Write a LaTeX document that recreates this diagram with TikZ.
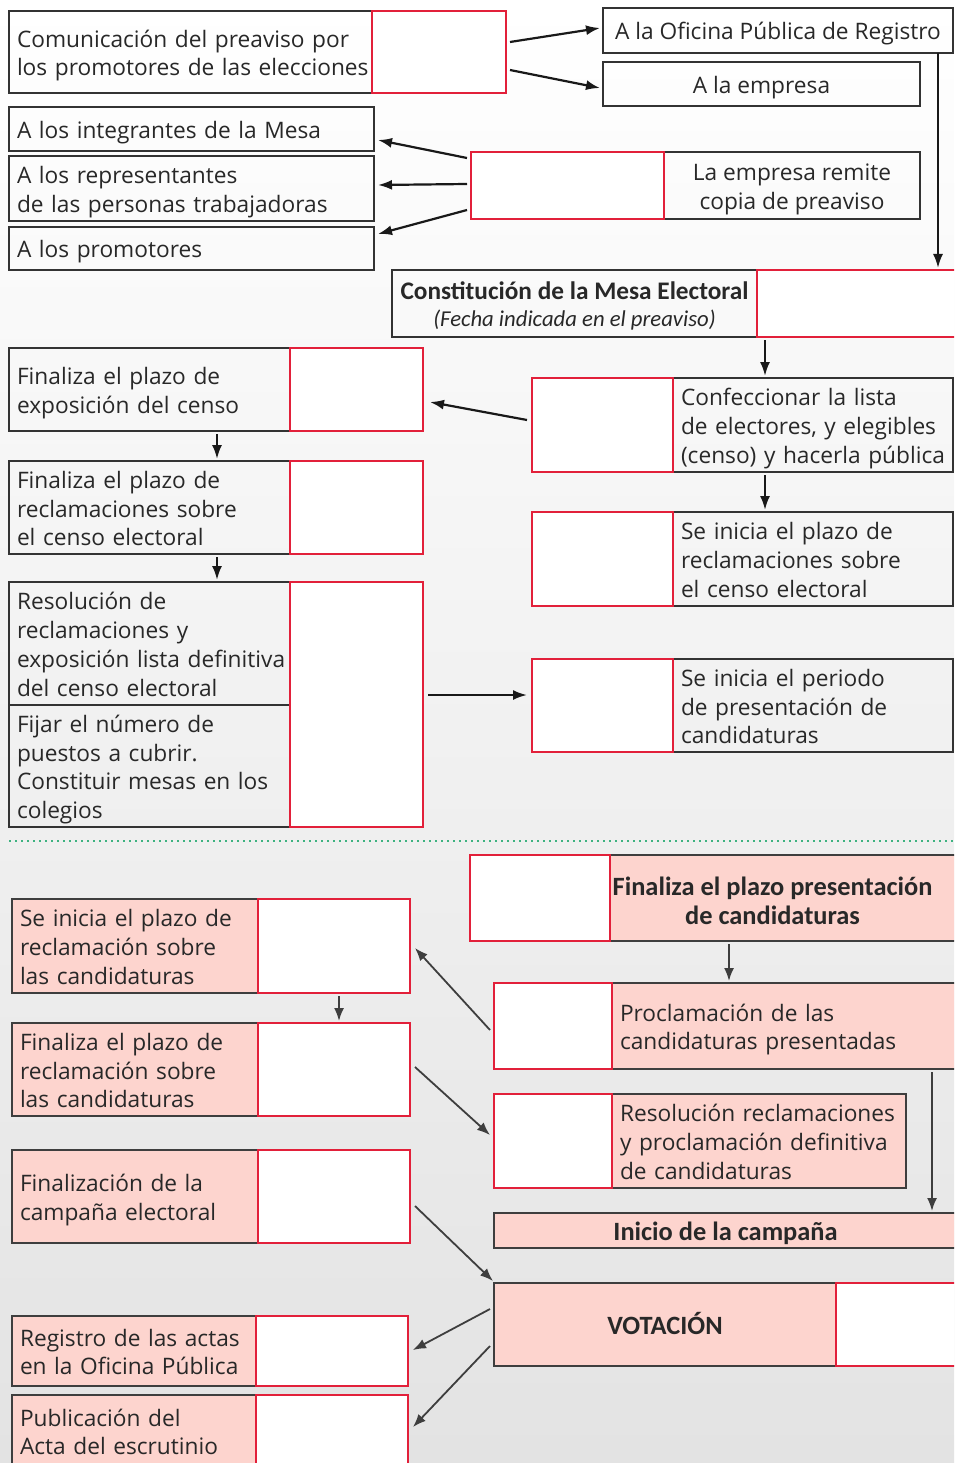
\documentclass[tikz,border=0pt]{standalone}
\usepackage{fontspec}
\setmainfont{Open Sans}
\newfontfamily\calib{Carlito}
\usetikzlibrary{arrows.meta,positioning}

\definecolor{redline}{RGB}{226,32,58}
\definecolor{pinkfill}{RGB}{253,212,206}
\definecolor{darkline}{RGB}{62,62,62}
\definecolor{greendot}{RGB}{62,178,128}
\definecolor{textc}{RGB}{40,40,40}

\begin{document}
\begin{tikzpicture}[
    x=1pt, y=-1pt,
    cell/.style={anchor=north west, inner sep=0pt, outer sep=0pt, line width=1.3pt,
      font=\fontsize{22.7}{28.8}\selectfont, text=textc,
      execute at begin node={\rule{0pt}{26pt}},
      execute at end node={\rule[-7pt]{0pt}{7pt}}},
    blk/.style={cell, draw=black!80},
    blktxt/.style={blk, inner xsep=8pt, align=left},
    redbox/.style={cell, draw=redline, fill=white},
    pinkbox/.style={cell, draw=darkline, fill=pinkfill, inner xsep=8pt, align=left},
    head/.style={font=\calib\bfseries\fontsize{26.4}{29}\selectfont},
    arr/.style={-{Latex[length=14pt,width=10pt]}, line width=2.2pt, black!90},
    arrg/.style={-{Latex[length=13pt,width=10pt]}, line width=1.8pt, darkline},
]

  % page and background
  \useasboundingbox (0,0) rectangle (954,1463);
  \clip (0,0) rectangle (954,1463);
  \shade[top color=white, middle color=black!5, bottom color=black!11] (0,0) rectangle (954,1463);

  % preaviso
  \node[blktxt, minimum width=363pt, minimum height=82pt, text width=347pt] (prev) at (9,11) {Comunicación del preaviso por\\\mbox{los promotores de las elecciones}};
  \node[redbox, minimum width=134pt, minimum height=82pt] (prevr) at (372,11) {};
  \node[blk, minimum width=350pt, minimum height=45pt] (ofic) at (603,8) {A la Oficina Pública de Registro};
  \node[blk, minimum width=317pt, minimum height=44pt] (empr) at (603,62) {A la empresa};

  % copias del preaviso
  \node[blktxt, minimum width=365pt, minimum height=44pt, text width=349pt] (integ) at (9,107) {A los integrantes de la Mesa};
  \node[blktxt, minimum width=365pt, minimum height=65pt, text width=349pt] (repr) at (9,156) {A los representantes\\\mbox{de las personas trabajadoras}};
  \node[blktxt, minimum width=365pt, minimum height=43pt, text width=349pt] (promo) at (9,227) {A los promotores};
  \node[blktxt, minimum width=256pt, minimum height=67pt, text width=240pt, align=flush center] (rem) at (664,152) {La empresa remite\\copia de preaviso};
  \node[redbox, minimum width=193pt, minimum height=67pt] (remr) at (471,152) {};

  % mesa electoral
  \node[blktxt, inner xsep=4pt, minimum width=365pt, minimum height=67pt, text width=357pt, align=flush center] (const) at (392,270)
    {{\calib\bfseries\fontsize{25.3}{27}\selectfont Constitución de la Mesa Electoral}\\[-2pt]{\calib\itshape\fontsize{22.7}{27}\selectfont (Fecha indicada en el preaviso)}};
  \node[redbox, minimum width=200pt, minimum height=67pt] (constr) at (757,270) {};

  % censo
  \node[blktxt, minimum width=280pt, minimum height=94pt, text width=264pt] (conf) at (673,378) {Confeccionar la lista\\\mbox{de electores, y elegibles}\\\mbox{(censo) y hacerla pública}};
  \node[redbox, minimum width=141pt, minimum height=94pt] (confr) at (532,378) {};
  \node[blktxt, minimum width=281pt, minimum height=83pt, text width=265pt] (expo) at (9,348) {Finaliza el plazo de\\exposición del censo};
  \node[redbox, minimum width=133pt, minimum height=83pt] (expor) at (290,348) {};
  \node[blktxt, minimum width=281pt, minimum height=93pt, text width=265pt] (recl) at (9,461) {Finaliza el plazo de\\reclamaciones sobre\\el censo electoral};
  \node[redbox, minimum width=133pt, minimum height=93pt] (reclr) at (290,461) {};
  \node[blktxt, minimum width=281pt, minimum height=123pt, text width=265pt] (resol) at (9,582) {Resolución de\\reclamaciones y\\\mbox{exposición lista definitiva}\\del censo electoral};
  \node[blktxt, minimum width=281pt, minimum height=122pt, text width=265pt] (fijar) at (9,705) {Fijar el número de\\puestos a cubrir.\\\mbox{Constituir mesas en los}\\colegios};
  \node[redbox, minimum width=133pt, minimum height=245pt] (resolr) at (290,582) {};
  \node[blktxt, minimum width=280pt, minimum height=94pt, text width=264pt] (ini) at (673,512) {Se inicia el plazo de\\reclamaciones sobre\\el censo electoral};
  \node[redbox, minimum width=141pt, minimum height=94pt] (inir) at (532,512) {};
  \node[blktxt, minimum width=280pt, minimum height=93pt, text width=264pt] (per) at (673,659) {Se inicia el periodo\\de presentación de\\candidaturas};
  \node[redbox, minimum width=141pt, minimum height=93pt] (perr) at (532,659) {};

  \draw[greendot, line width=2pt, dash pattern=on 2pt off 4pt] (9,841) -- (954,841);

  % candidaturas
  \node[pinkbox, minimum width=347pt, minimum height=86pt,
    label={[head, text=textc, align=center, xshift=-11pt, yshift=-3pt]center:Finaliza el plazo presentación\\de candidaturas}] (finc) at (610,855) {};
  \node[redbox, minimum width=140pt, minimum height=86pt] (fincr) at (470,855) {};
  \node[pinkbox, minimum width=345pt, minimum height=86pt, text width=329pt] (proc) at (612,983) {Proclamación de las\\\mbox{candidaturas presentadas}};
  \node[redbox, minimum width=118pt, minimum height=86pt] (procr) at (494,983) {};
  \node[pinkbox, minimum width=294pt, minimum height=94pt, text width=278pt] (resc) at (612,1094) {\mbox{Resolución reclamaciones}\\\mbox{y proclamación definitiva}\\de candidaturas};
  \node[redbox, minimum width=118pt, minimum height=94pt] (rescr) at (494,1094) {};
  \node[pinkbox, head, minimum width=463pt, minimum height=35pt, align=center] (camp) at (494,1213) {Inicio de la campaña};
  \node[pinkbox, head, minimum width=342pt, minimum height=83pt, align=center] (vot) at (494,1283) {VOTACIÓN};
  \node[redbox, minimum width=121pt, minimum height=83pt] (votr) at (836,1283) {};

  \node[pinkbox, minimum width=246pt, minimum height=94pt, text width=230pt] (recc) at (12,899) {Se inicia el plazo de\\reclamación sobre\\las candidaturas};
  \node[redbox, minimum width=152pt, minimum height=94pt] (reccr) at (258,899) {};
  \node[pinkbox, minimum width=246pt, minimum height=93pt, text width=230pt] (finr) at (12,1023) {Finaliza el plazo de\\reclamación sobre\\las candidaturas};
  \node[redbox, minimum width=152pt, minimum height=93pt] (finrr) at (258,1023) {};
  \node[pinkbox, minimum width=246pt, minimum height=93pt, text width=230pt] (fcamp) at (12,1150) {Finalización de la\\campaña electoral};
  \node[redbox, minimum width=152pt, minimum height=93pt] (fcampr) at (258,1150) {};
  \node[pinkbox, minimum width=244pt, minimum height=70pt, text width=228pt] (reg) at (12,1316) {Registro de las actas\\en la Oficina Pública};
  \node[redbox, minimum width=152pt, minimum height=70pt] (regr) at (256,1316) {};
  \node[pinkbox, minimum width=244pt, minimum height=72pt, text width=228pt] (pub) at (12,1395) {Publicación del\\Acta del escrutinio};
  \node[redbox, minimum width=152pt, minimum height=72pt] (pubr) at (256,1395) {};

  % arrows, upper part
  \draw[arr] ([xshift=4pt,yshift=10pt]prevr.east) -- ([xshift=-3pt,yshift=2.5pt]ofic.west);
  \draw[arr] ([xshift=4pt,yshift=-18pt]prevr.east) -- ([xshift=-3pt,yshift=-4pt]empr.west);
  \draw[arr] ([xshift=-4pt,yshift=27.5pt]remr.west) -- ([xshift=4pt,yshift=-11pt]integ.east);
  \draw[arr] ([xshift=-4pt,yshift=1.5pt]remr.west) -- ([xshift=4pt,yshift=3.5pt]repr.east);
  \draw[arr] ([xshift=-4pt,yshift=-24.5pt]remr.west) -- ([xshift=4pt,yshift=14.5pt]promo.east);
  \draw[arr] ([xshift=-15pt]ofic.south east) -- ([xshift=181pt,yshift=2pt]constr.north west);
  \draw[arr] ([xshift=8pt,yshift=-3pt]constr.south west) -- ([xshift=92pt,yshift=2pt]conf.north west);
  \draw[arr] ([xshift=-5pt,yshift=5pt]confr.west) -- ([xshift=7pt,yshift=-12.5pt]expor.east);
  \draw[arr] ([xshift=208pt,yshift=-3pt]expo.south west) -- ([xshift=208pt,yshift=2pt]recl.north west);
  \draw[arr] ([xshift=208pt,yshift=-3pt]recl.south west) -- ([xshift=208pt,yshift=2pt]resol.north west);
  \draw[arr] ([xshift=92pt,yshift=-3pt]conf.south west) -- ([xshift=92pt,yshift=2pt]ini.north west);
  \draw[arr] ([xshift=5pt,yshift=9.5pt]resolr.east) -- ([xshift=-5pt,yshift=10.5pt]perr.west);

  % arrows, lower part
  \draw[arrg] ([xshift=119pt,yshift=-3pt]finc.south west) -- ([xshift=117pt,yshift=2pt]proc.north west);
  \draw[arrg] ([xshift=-4pt,yshift=-4pt]procr.west) -- ([xshift=5pt,yshift=-2pt]reccr.east);
  \draw[arrg] ([xshift=81pt,yshift=-3pt]reccr.south west) -- ([xshift=81pt,yshift=2pt]finrr.north west);
  \draw[arrg] ([xshift=5pt,yshift=2.5pt]finrr.east) -- ([xshift=-4pt,yshift=6pt]rescr.west);
  \draw[arrg] ([xshift=320pt,yshift=-3pt]proc.south west) -- ([xshift=438pt,yshift=2pt]camp.north west);
  \draw[arrg] ([xshift=5pt,yshift=-9.5pt]fcampr.east) -- ([xshift=-1pt,yshift=2pt]vot.north west);
  \draw[arrg] ([xshift=-4pt,yshift=15.5pt]vot.west) -- ([xshift=5pt,yshift=1pt]regr.east);
  \draw[arrg] ([xshift=-4pt,yshift=-21.5pt]vot.west) -- ([xshift=5pt,yshift=4pt]pubr.east);

\end{tikzpicture}
\end{document}
